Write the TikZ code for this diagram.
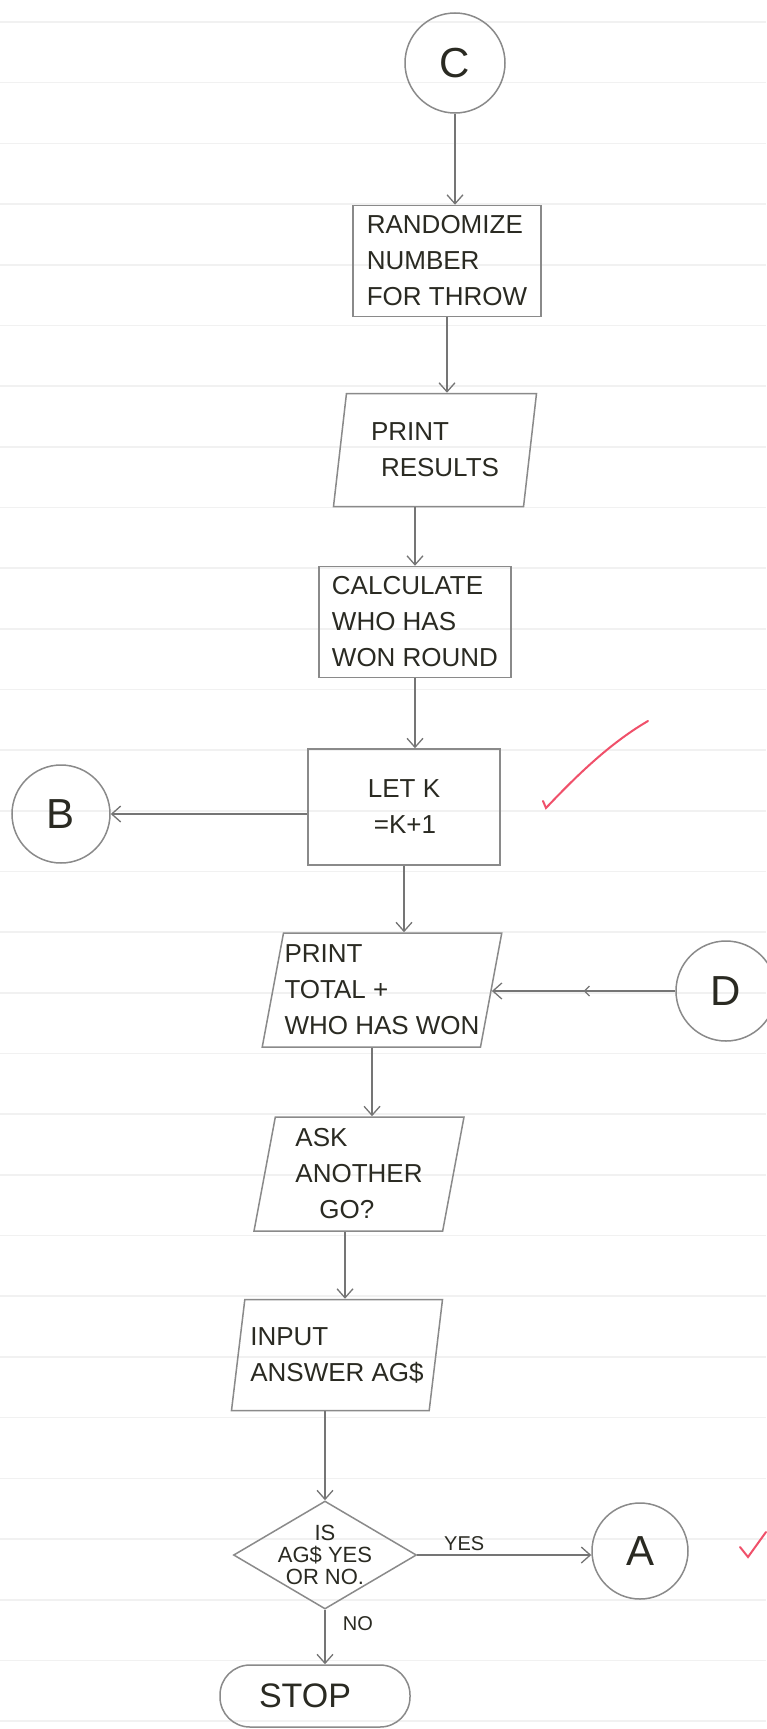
\documentclass[tikz,border=0pt]{standalone}
\usepackage{fontspec}
\setmainfont{Liberation Sans}
\usetikzlibrary{arrows.meta,shapes.geometric,decorations.markings}

\definecolor{pencil}{HTML}{8A8A8A}
\definecolor{ink}{HTML}{2A2A22}
\definecolor{ruling}{HTML}{F1F1F1}
\definecolor{marker}{HTML}{F0506A}

\begin{document}
\begin{tikzpicture}[x=1pt,y=-1pt,
    process/.style={draw=pencil, line width=1.5pt, rectangle, inner sep=3pt, text=ink, align=left, font=\fontsize{26}{36}\selectfont},
    io/.style={draw=pencil, line width=1.5pt, trapezium, trapezium left angle=77, trapezium right angle=103, trapezium stretches body, inner sep=1pt, text=ink, align=left, font=\fontsize{26}{36}\selectfont},
    joint/.style={draw=pencil, line width=1.5pt, circle, minimum size=#1, inner sep=0pt, text=ink, font=\fontsize{42}{42}\selectfont},
    ask/.style={draw=pencil, line width=1.5pt, diamond, aspect=1.7, inner sep=-6pt, text=ink, align=center, font=\fontsize{22}{22}\selectfont},
    arrow/.style={draw=pencil!85!black, line width=1.3pt, -{Straight Barb[length=9pt,width=16pt]}},
    tag/.style={text=ink, font=\fontsize{20}{20}\selectfont}]
    \useasboundingbox[fill=white] (0,0) rectangle (766,1729);
    % ruled paper
    \foreach \k in {0,...,28}
        \draw[ruling, line width=1.6pt] (0,22+60.68*\k) -- (766,22+60.68*\k);

    \node[joint=100] (c) at (455,63) {C};
    \node[process, minimum width=188, minimum height=111] (rand) at (447,261) {RANDOMIZE\\NUMBER\\FOR THROW};
    \node[io, minimum width=203, minimum height=113] (printres) at (435,450) {PRINT\\\hspace*{10pt}RESULTS};
    \node[process, minimum width=192, minimum height=111] (calc) at (415,622) {CALCULATE\\WHO HAS\\WON ROUND};
    \node[process, minimum width=192, minimum height=116] (letk) at (404,807) {LET K\\\hspace*{6pt}=K+1};
    \node[joint=98] (b) at (61,814) {B};
    \node[io, minimum width=212, minimum height=114] (printtot) at (382,990) {PRINT\\TOTAL +\\WHO HAS WON};
    \node[joint=100] (d) at (726,991) {D};
    \node[io, minimum width=210, minimum height=114] (another) at (359,1174) {ASK\\ANOTHER\\\hspace*{24pt}GO?};
    \node[io, minimum width=211, minimum height=111] (input) at (337,1355) {INPUT\\ANSWER AG\$};
    \node[ask, minimum width=183, minimum height=108] (dec) at (325,1555) {IS\\AG\$ YES\\OR NO.};
    \node[joint=96] (a) at (640,1551) {A};
    \node[draw=pencil, line width=1.5pt, rectangle, rounded corners=30pt, minimum width=190, minimum height=62, text=ink, font=\fontsize{34}{34}\selectfont] (stop) at (315,1696) {STOP\hspace*{20pt}};

    \draw[arrow] (c) -- (c.south |- rand.north);
    \draw[arrow] (rand.south) -- (rand.south |- printres.north);
    \draw[arrow] (calc.north |- printres.south) -- (calc.north);
    \draw[arrow] (calc.south) -- (calc.south |- letk.north);
    \draw[arrow] (letk.west |- b.east) -- (b.east);
    \draw[arrow] (letk.south) -- (letk.south |- printtot.north);
    \draw[arrow, postaction={decorate}, decoration={markings, mark=at position 0.5 with {\arrow{Straight Barb[length=5pt,width=10pt]}}}] (d.west) -- (d.west -| printtot.east);
    \draw[arrow] ([xshift=-10pt]printtot.south) -- ([xshift=-10pt]printtot.south |- another.north);
    \draw[arrow] ([xshift=-14pt]another.south) -- ([xshift=-14pt]another.south |- input.north);
    \draw[arrow] (dec.north |- input.south) -- (dec.north);
    \draw[arrow] (dec.east) -- node[tag, above, pos=0.27] {YES} (a.west |- dec.east);
    \draw[arrow] (dec.south) -- node[tag, right=14pt, pos=0.25] {NO} (dec.south |- stop.north);

    % ticks in red pen
    \draw[marker, line width=2pt, line cap=round] (543,801) -- (546,808) .. controls (580,772) and (612,742) .. (648,721);
    \draw[marker, line width=2pt, line cap=round] (740,1547) -- (748,1557) -- (766,1532);
\end{tikzpicture}
\end{document}
